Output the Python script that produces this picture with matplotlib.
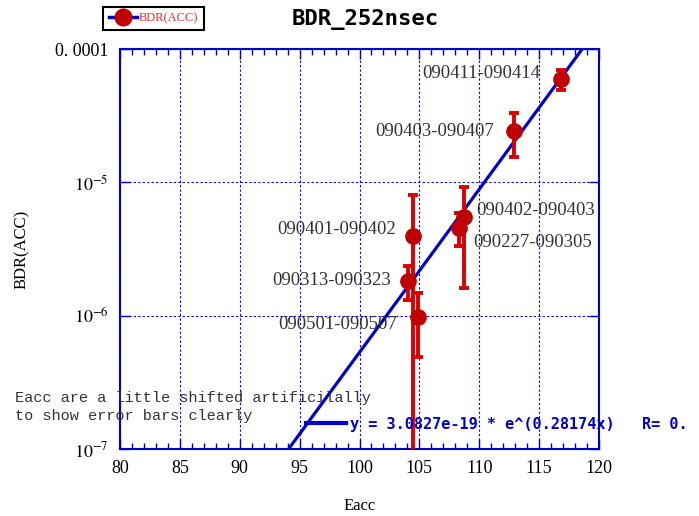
import numpy as np
import matplotlib.pyplot as plt
from matplotlib.lines import Line2D
from matplotlib.ticker import FixedLocator, MultipleLocator, NullLocator

plt.rcParams['mathtext.fontset'] = 'stix'

# data
runs = ['090411-090414', '090403-090407', '090402-090403', '090227-090305',
        '090401-090402', '090313-090323', '090501-090507']
eacc = np.array([116.8, 112.9, 108.75, 108.33, 104.47, 104.05, 104.86])
bdr = np.array([5.96e-5, 2.44e-5, 5.52e-6, 4.57e-6, 3.98e-6, 1.82e-6, 9.8e-7])
bdr_hi = np.array([6.95e-5, 3.33e-5, 9.27e-6, 5.89e-6, 8.03e-6, 2.36e-6, 1.47e-6])
bdr_lo = np.array([4.93e-5, 1.54e-5, 1.62e-6, 3.35e-6, 1e-9, 1.31e-6, 4.9e-7])

# label offsets (pixels) and alignment
lab_dx = [-20, -20, 12, 14, -17, -17, -21]
lab_dy = [5, -1, 6, -15, 6, 0, -8]
lab_ha = ['right', 'right', 'left', 'left', 'right', 'right', 'right']

# exponential fit y = a*exp(b*x)
fit_a = 3.0827e-19
fit_b = 0.28174
fit_x = np.array([80.0, 120.0])
fit_y = fit_a * np.exp(fit_b * fit_x)

xticks = [80, 85, 90, 95, 100, 105, 110, 115, 120]
yticks = [1e-7, 1e-6, 1e-5, 1e-4]
yticklabels = ['$10^{-7}$', '$10^{-6}$', '$10^{-5}$', '0. 0001']

blue = '#0000cc'
red = '#dd0000'
dark_red = '#c00000'

fig = plt.figure(figsize=(6.99, 5.16), dpi=100)
ax = fig.add_axes([120/699, 1-449/516, 479/699, 400/516])

ax.plot(fit_x, fit_y, color=blue, lw=2.3, zorder=2)
ax.errorbar(eacc, bdr, yerr=[bdr - bdr_lo, bdr_hi - bdr], fmt='o', color=dark_red,
            ecolor=red, elinewidth=2.8, capsize=3.5, capthick=2.8, ms=11, zorder=3)

for name, x, y, dx, dy, ha in zip(runs, eacc, bdr, lab_dx, lab_dy, lab_ha):
    ax.annotate(name, (x, y), xytext=(dx, dy), textcoords='offset pixels',
                ha=ha, va='center', fontsize=13.5, family='Liberation Serif',
                color='#333333')

ax.set_yscale('log')
ax.set_xlim(80, 120)
ax.set_ylim(1e-7, 1e-4)
ax.xaxis.set_major_locator(FixedLocator(xticks))
ax.xaxis.set_minor_locator(MultipleLocator(1))
ax.yaxis.set_major_locator(FixedLocator(yticks))
ax.yaxis.set_minor_locator(NullLocator())
ax.set_yticklabels(yticklabels)
ax.tick_params(which='both', direction='in', color=blue, top=True, right=True,
               labelsize=13, pad=8)
ax.tick_params(which='major', length=7, width=1)
ax.tick_params(which='minor', length=4, width=1)
for lab in ax.get_xticklabels() + ax.get_yticklabels():
    lab.set_family('Liberation Serif')
for sp in ax.spines.values():
    sp.set_color(blue)
    sp.set_linewidth(1.5)
ax.grid(which='major', color='#0000ff', linestyle=(0, (2, 2)), linewidth=0.8)

ax.set_xlabel('Eacc', family='Liberation Serif', fontsize=12, labelpad=15)
ax.set_ylabel('BDR(ACC)', family='Liberation Serif', fontsize=12, labelpad=18)
fig.suptitle('BDR_252nsec', x=365/699, y=1-20/516, va='center',
             family='DejaVu Sans Mono', fontsize=16, weight='bold')

# legend box upper left
h = Line2D([], [], color=blue, lw=2.5, marker='o', mfc=dark_red, mec=dark_red, ms=12)
leg = fig.legend([h], ['BDR(ACC)'], loc='upper left', bbox_to_anchor=(103/699, 1-7/516),
                 fancybox=False, edgecolor='black', framealpha=1, handlelength=2.3,
                 borderpad=0.45, handletextpad=0.1, borderaxespad=0,
                 prop={'family': 'Liberation Serif', 'size': 9}, labelcolor='#e03030')
leg.get_frame().set_linewidth(1.5)

# fit key inside plot
hf = Line2D([], [], color=blue, lw=3)
fig.legend([hf], [f'y = {fit_a:.4e} * e^({fit_b}x)   R= 0.'], loc='center left',
           bbox_to_anchor=(300/699, 1-424/516), frameon=False, handlelength=2.6,
           handletextpad=0.3, borderaxespad=0,
           prop={'family': 'DejaVu Sans Mono', 'weight': 'bold', 'size': 11},
           labelcolor=blue)

fig.text(15/699, 1-391/516, 'Eacc are a little shifted artificilally\nto show error bars clearly',
         va='top', ha='left', family='Liberation Mono', fontsize=11,
         color='#333333', linespacing=1.4)

fig.savefig('out.png', dpi=100)
